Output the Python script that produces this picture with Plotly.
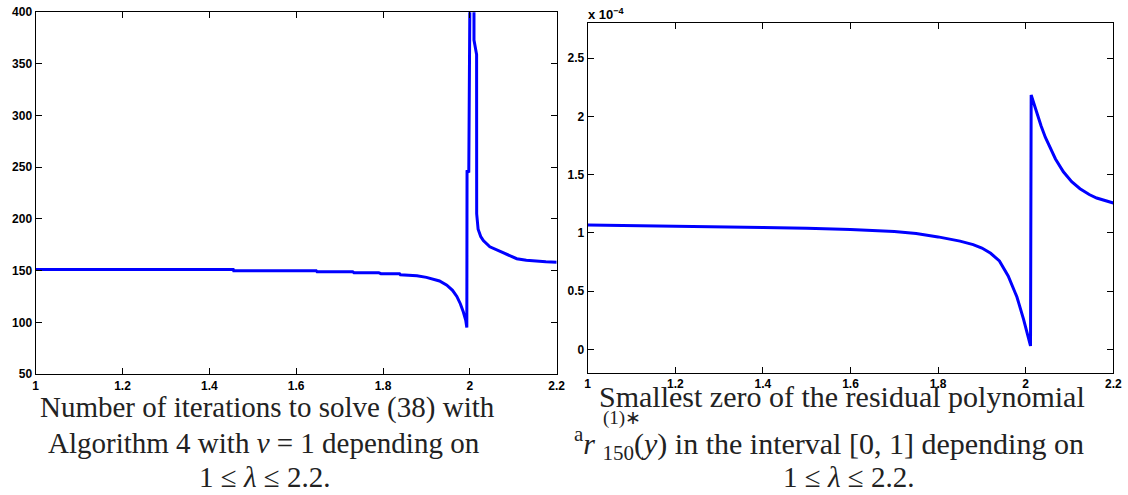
import plotly.graph_objects as go

W, H = 1128, 495

# Left panel: iteration count versus lambda
iter_lambda = [1.0, 1.455, 1.456, 1.646, 1.648, 1.73, 1.733, 1.79, 1.795, 1.838,
               1.84, 1.86, 1.878, 1.9, 1.916, 1.93, 1.947, 1.96, 1.97, 1.978,
               1.985, 1.9905, 1.993, 1.9935, 1.9975, 1.998, 2.009, 2.0095, 2.0155,
               2.0157, 2.019, 2.025, 2.031, 2.046, 2.077, 2.108, 2.13, 2.154,
               2.175, 2.2]
iter_count = [151, 151, 150, 150, 149, 149, 148, 148, 147, 147,
              146, 145.5, 145, 143.5, 142, 140, 136, 131, 125, 118,
              110, 102, 95, 247, 245, 1000, 1000, 373, 359,
              205, 190, 183, 179, 173, 167, 161.5, 160, 159,
              158.5, 158]

# Right panel: smallest zero of the residual polynomial (units of 1e-4)
zero_lambda = [1.0, 1.1, 1.2, 1.3, 1.4, 1.5, 1.6, 1.7, 1.75, 1.8, 1.85, 1.88,
               1.9, 1.92, 1.94, 1.96, 1.98, 1.995, 2.005, 2.011, 2.0125, 2.02,
               2.027, 2.035, 2.045, 2.056, 2.068, 2.086, 2.105, 2.124, 2.145,
               2.162, 2.18, 2.2]
zero_e4 = [1.068, 1.064, 1.059, 1.053, 1.047, 1.040, 1.030, 1.012, 0.995, 0.966,
           0.93, 0.90, 0.87, 0.825, 0.76, 0.63, 0.45, 0.26, 0.12, 0.03, 2.185,
           2.09, 2.00, 1.92, 1.82, 1.725, 1.635, 1.525, 1.44, 1.38, 1.33,
           1.30, 1.277, 1.257]
zero_val = [v * 1e-4 for v in zero_e4]

x_ticks = [1, 1.2, 1.4, 1.6, 1.8, 2, 2.2]
x_ticktext = ["1", "1.2", "1.4", "1.6", "1.8", "2", "2.2"]
left_yticks = [50, 100, 150, 200, 250, 300, 350, 400]
right_yticks_e4 = [0, 0.5, 1, 1.5, 2, 2.5]
right_ytext = ["0", "0.5", "1", "1.5", "2", "2.5"]

BLUE = "#0000ff"
TICKFONT = dict(family="Liberation Sans", size=12, color="black", weight="bold")
SERIF = "Liberation Serif"


def px_x(p):
    return p / W


def px_y(p):
    return 1 - p / H


def bold(labels):
    return ["<b>%s</b>" % s for s in labels]


fig = go.Figure()
fig.add_trace(go.Scatter(x=iter_lambda, y=iter_count, mode="lines",
                         line=dict(color=BLUE, width=3), xaxis="x", yaxis="y",
                         showlegend=False))
fig.add_trace(go.Scatter(x=zero_lambda, y=zero_val, mode="lines",
                         line=dict(color=BLUE, width=3), xaxis="x2", yaxis="y2",
                         showlegend=False))

axis_common = dict(showline=True, linecolor="black", linewidth=1.3, mirror="ticks",
                   ticks="inside", ticklen=6, tickwidth=1, tickcolor="black",
                   showgrid=False, zeroline=False, tickfont=TICKFONT,
                   automargin=False)

fig.update_layout(
    width=W, height=H,
    margin=dict(l=0, r=0, t=0, b=0),
    paper_bgcolor="white", plot_bgcolor="white",
    xaxis=dict(domain=[px_x(35.7), px_x(556.7)], range=[1, 2.2],
               tickvals=x_ticks, ticktext=bold(x_ticktext), anchor="y",
               **axis_common),
    yaxis=dict(domain=[px_y(374), px_y(12.2)], range=[50, 400],
               tickvals=left_yticks, ticktext=bold([str(v) for v in left_yticks]),
               anchor="x", **axis_common),
    xaxis2=dict(domain=[px_x(587.7), px_x(1113.3)], range=[1, 2.2],
                tickvals=x_ticks, ticktext=bold(x_ticktext), anchor="y2",
                **axis_common),
    yaxis2=dict(domain=[px_y(372.7), px_y(23.3)], range=[-0.2e-4, 2.8e-4],
                tickvals=[v * 1e-4 for v in right_yticks_e4],
                ticktext=bold(right_ytext), anchor="x2", **axis_common),
)

annotations = []


def caption(text, cx, cy, anchor="center", size=29):
    annotations.append(dict(text=text, x=px_x(cx), y=px_y(cy), xref="paper",
                            yref="paper", xanchor=anchor, yanchor="middle",
                            showarrow=False,
                            font=dict(family=SERIF, size=size, color="#222")))


# Exponent label of the right y axis
annotations.append(dict(text="<b>x 10<sup>−4</sup></b>", x=px_x(586), y=px_y(14),
                        xref="paper", yref="paper", xanchor="left",
                        yanchor="middle", showarrow=False,
                        font=dict(family="Liberation Sans", size=13,
                                  color="black")))

caption("Number of iterations to solve (38) with", 267, 407)
caption("Algorithm 4 with <i>ν</i> = 1 depending on", 264, 443)
caption("1 ≤ <i>λ</i> ≤ 2.2.", 264, 477)

caption("Smallest zero of the residual polynomial", 842, 396, size=30)
caption("<sup>a</sup><i>r</i> <sub>150</sub>(<i>y</i>) in the interval [0, 1] depending on",
        572, 443, anchor="left", size=30)
annotations.append(dict(text="(1)∗", x=px_x(601), y=px_y(418), xref="paper",
                        yref="paper", xanchor="left", yanchor="middle",
                        showarrow=False,
                        font=dict(family=SERIF, size=19, color="#222")))
caption("1 ≤ <i>λ</i> ≤ 2.2.", 848, 477)

fig.update_layout(annotations=annotations)
fig.write_html("out.html")
